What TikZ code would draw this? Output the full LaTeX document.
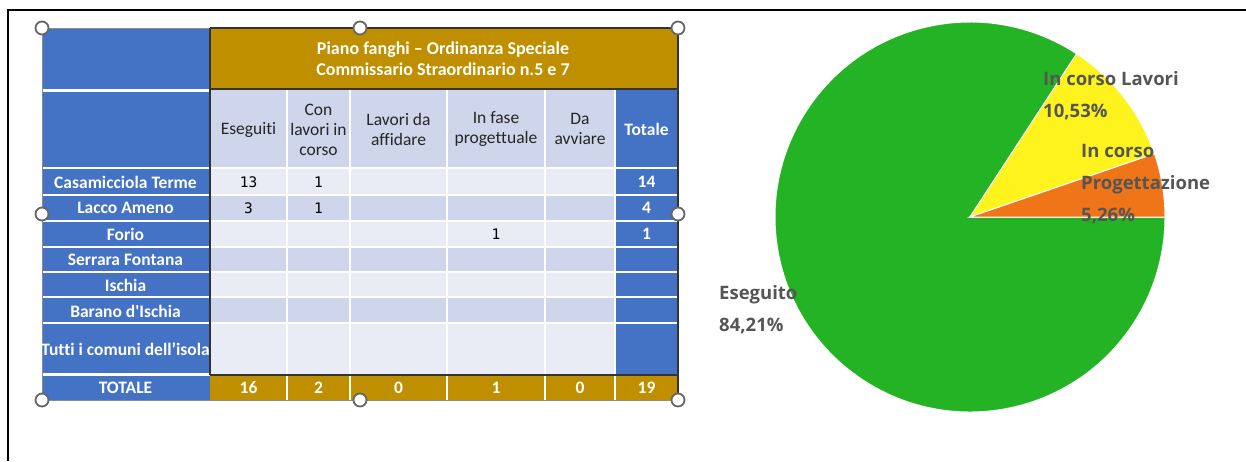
\documentclass[tikz,border=0pt]{standalone}
\usepackage{fontspec}
\setmainfont{Carlito}[Ligatures={TeX,NoCommon}]
\newfontfamily\piefont{Open Sans}
\newfontfamily\numfont{DejaVu Sans Mono}
\usepackage{xcolor}
\usepackage{tikz}

\definecolor{tblblue}{HTML}{4472C4}
\definecolor{tblgold}{HTML}{BF8F00}
\definecolor{banddark}{HTML}{CFD5EA}
\definecolor{bandlight}{HTML}{E9EBF5}
\definecolor{piegreen}{HTML}{24B324}
\definecolor{pieyellow}{HTML}{FFF31E}
\definecolor{pieorange}{HTML}{F07418}
\definecolor{labelgray}{HTML}{555555}

\begin{document}
\begin{tikzpicture}[x=1pt, y=-1pt]
      \tikzstyle{title} = [text=white, font=\fontsize{18}{21}\selectfont\bfseries, align=center, inner sep=0pt]
      \tikzstyle{rowlabel} = [text=white, font=\fontsize{17.5}{18}\selectfont\bfseries, inner sep=0pt]
      \tikzstyle{colhead} = [text=black!85, font=\fontsize{17.5}{20}\selectfont, align=center, inner sep=0pt]
      \tikzstyle{cellnum} = [text=black, font=\numfont\fontsize{14.5}{16}\selectfont, inner sep=0pt]
      \tikzstyle{gridline} = [white, line width=1.2pt]
      \tikzstyle{frameline} = [black!80, line width=1.5pt]
      \tikzstyle{handle} = [circle, draw=black!60, fill=white, line width=1.8pt, minimum size=13pt, inner sep=0pt]
      \tikzstyle{slice} = [draw=white, line width=1pt]
      \tikzstyle{pielabel} = [text=labelgray, font=\piefont\fontsize{18.5}{32}\selectfont\bfseries, align=left, anchor=west, inner sep=0pt]

      \useasboundingbox (0,0) rectangle (1246,461);
      \draw[line width=2pt] (8,461) -- (8,10) -- (1246,10);

      \fill[tblblue] (42,28) rectangle (210,400);
      \fill[tblgold] (210,28) rectangle (678,89);
      \fill[banddark] (210,89) rectangle (615,168);
      \fill[tblblue] (615,89) rectangle (678,375);
      \fill[bandlight] (210,168) rectangle (615,195);
      \fill[banddark] (210,195) rectangle (615,221);
      \fill[bandlight] (210,221) rectangle (615,247);
      \fill[banddark] (210,247) rectangle (615,272);
      \fill[bandlight] (210,272) rectangle (615,297);
      \fill[banddark] (210,297) rectangle (615,323);
      \fill[bandlight] (210,323) rectangle (615,375);
      \fill[tblgold] (210,375) rectangle (678,400);

      \draw[gridline] (287,89) -- (287,400);
      \draw[gridline] (350,89) -- (350,400);
      \draw[gridline] (447,89) -- (447,400);
      \draw[gridline] (545,89) -- (545,400);
      \draw[gridline] (615,89) -- (615,400);
      \draw[gridline] (42,168) -- (678,168);
      \draw[gridline] (42,195) -- (678,195);
      \draw[gridline] (42,221) -- (678,221);
      \draw[gridline] (42,247) -- (678,247);
      \draw[gridline] (42,272) -- (678,272);
      \draw[gridline] (42,297) -- (678,297);
      \draw[gridline] (42,323) -- (678,323);
      \draw[gridline, line width=3pt] (42,90) -- (210,90);
      \draw[gridline, line width=3pt] (42,374) -- (210,374);

      \draw[black!45, line width=0.8pt] (42,28) rectangle (678,400);
      \draw[frameline] (210,28) -- (678,28) -- (678,400);
      \draw[frameline] (210,28) -- (210,375);
      \draw[frameline] (210,89) -- (678,89);
      \draw[frameline] (210,375) -- (678,375);

      \node[title] (title) at (443,58.5) {Piano fanghi -- Ordinanza Speciale\\Commissario Straordinario n.5 e 7};

      \node[colhead] (eseguiti) at (248.5,130) {Eseguiti};
      \node[colhead] (conlavori) at (318.5,130) {Con\\lavori in\\corso};
      \node[colhead] (daaffidare) at (398.5,129) {Lavori da\\affidare};
      \node[colhead] (progettuale) at (496,129) {In fase\\progettuale};
      \node[colhead] (daavviare) at (580,129) {Da\\avviare};
      \node[rowlabel] (totale) at (646.5,129) {Totale};

      \node[rowlabel] (casamicciola) at (125.5,182) {Casamicciola Terme};
      \node[rowlabel] (lacco) at (125.5,208) {Lacco Ameno};
      \node[rowlabel] (forio) at (125.5,234) {Forio};
      \node[rowlabel] (serrara) at (125.5,260) {Serrara Fontana};
      \node[rowlabel] (ischia) at (125.5,285) {Ischia};
      \node[rowlabel] (barano) at (125.5,311) {Barano d\textquotesingle Ischia};
      \node[rowlabel] (tutti) at (125.5,349) {Tutti i comuni dell’isola};
      \node[rowlabel] (totrow) at (125.5,388) {TOTALE};

      \node[cellnum] (casa-es) at (248.5,182) {13};
      \node[cellnum] (casa-cl) at (318.5,182) {1};
      \node[rowlabel] (casa-tot) at (646.5,182) {14};
      \node[cellnum] (lacco-es) at (248.5,208) {3};
      \node[cellnum] (lacco-cl) at (318.5,208) {1};
      \node[rowlabel] (lacco-tot) at (646.5,208) {4};
      \node[cellnum] (forio-pr) at (496,234) {1};
      \node[rowlabel] (forio-tot) at (646.5,234) {1};

      \node[rowlabel] (tot-es) at (248.5,388) {16};
      \node[rowlabel] (tot-cl) at (318.5,388) {2};
      \node[rowlabel] (tot-af) at (398.5,388) {0};
      \node[rowlabel] (tot-pr) at (496,388) {1};
      \node[rowlabel] (tot-av) at (580,388) {0};
      \node[rowlabel] (tot-tot) at (646.5,388) {19};

      \node[handle] (h1) at (42,28) {};
      \node[handle] (h2) at (360,28) {};
      \node[handle] (h3) at (678,28) {};
      \node[handle] (h4) at (42,214) {};
      \node[handle] (h5) at (678,214) {};
      \node[handle] (h6) at (42,400) {};
      \node[handle] (h7) at (360,400) {};
      \node[handle] (h8) at (678,400) {};

      \begin{scope}[shift={(970,217)}, yscale=-1]
        \fill[piegreen, slice] (0,0) -- (56.84:195) arc[start angle=56.84, end angle=360, radius=195] -- cycle;
        \fill[pieyellow, slice] (0,0) -- (18.94:195) arc[start angle=18.94, end angle=56.84, radius=195] -- cycle;
        \fill[pieorange, slice] (0,0) -- (0:195) arc[start angle=0, end angle=18.94, radius=195] -- cycle;
      \end{scope}

      \node[pielabel] (lavori) at (1043,96) {In corso Lavori\\10,53\%};
      \node[pielabel] (progetto) at (1081,184) {In corso\\Progettazione\\5,26\%};
      \node[pielabel] (eseguito) at (719,310) {Eseguito\\84,21\%};
    \end{tikzpicture}
\end{document}
